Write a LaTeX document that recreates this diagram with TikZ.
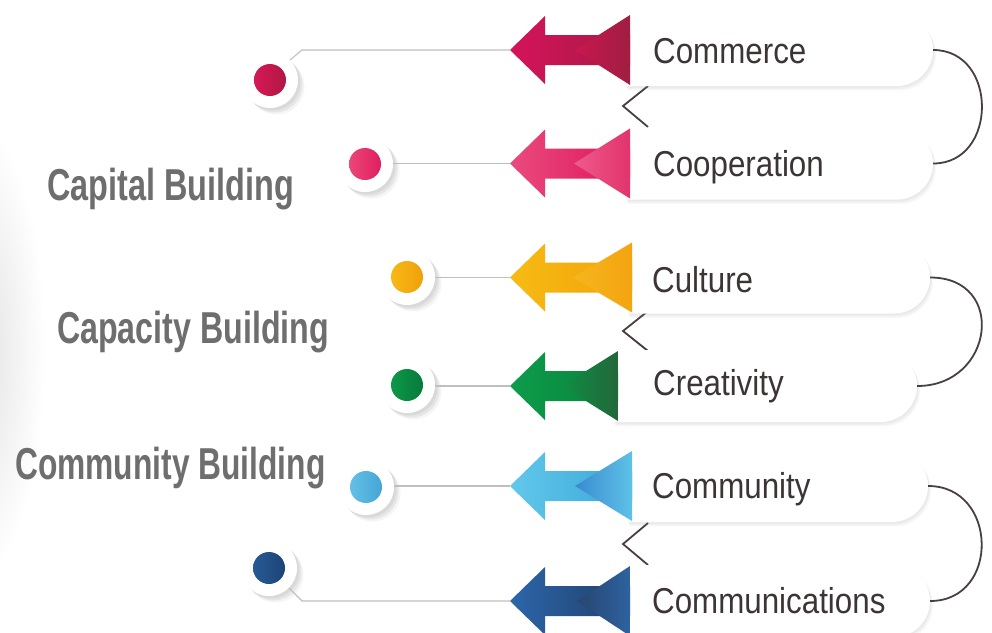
\documentclass[tikz,border=0pt]{standalone}
\usepackage{fontspec}
\setmainfont{Liberation Sans}
\usetikzlibrary{shapes.misc,shadows}
\definecolor{labelgray}{HTML}{6E6E6E}
\definecolor{itemgray}{HTML}{3D3535}
\definecolor{loopcol}{HTML}{4A3F3F}
\definecolor{aA}{HTML}{D5135A}\definecolor{aB}{HTML}{A81A45}\definecolor{aC}{HTML}{C8174F}\definecolor{aD}{HTML}{A01E42}
\definecolor{bA}{HTML}{EA4A7E}\definecolor{bB}{HTML}{DE175C}\definecolor{bC}{HTML}{EE5A8C}\definecolor{bD}{HTML}{E2336C}
\definecolor{cA}{HTML}{F7BB14}\definecolor{cB}{HTML}{F2A20A}\definecolor{cC}{HTML}{F6B61C}\definecolor{cD}{HTML}{F3A411}
\definecolor{dA}{HTML}{0E9C4B}\definecolor{dB}{HTML}{07833C}\definecolor{dC}{HTML}{0F8E43}\definecolor{dD}{HTML}{22673A}
\definecolor{eA}{HTML}{62C8EA}\definecolor{eB}{HTML}{3AA6D8}\definecolor{eC}{HTML}{3A8ACF}\definecolor{eD}{HTML}{5EC2E8}
\definecolor{fA}{HTML}{2C66AB}\definecolor{fB}{HTML}{203F68}\definecolor{fC}{HTML}{27466F}\definecolor{fD}{HTML}{2E62A0}
\definecolor{dotA1}{HTML}{D61856}\definecolor{dotA2}{HTML}{B01844}
\definecolor{dotB1}{HTML}{EC4678}\definecolor{dotB2}{HTML}{E01E5F}
\definecolor{dotC1}{HTML}{F7B816}\definecolor{dotC2}{HTML}{F0A00A}
\definecolor{dotD1}{HTML}{0C9848}\definecolor{dotD2}{HTML}{087A3A}
\definecolor{dotE1}{HTML}{64C0E6}\definecolor{dotE2}{HTML}{46A5D7}
\definecolor{dotF1}{HTML}{285A96}\definecolor{dotF2}{HTML}{1C4476}
\newcommand{\myarrow}[8]{%
  \shade[left color=#5, right color=#6] (510,#2) -- (545,#2-34) -- (545,#2-15) -- (#3,#2-15) -- (#3,#2+15) -- (545,#2+15) -- (545,#2+34) -- cycle;
  \shade[left color=#7, right color=#8] (#4,#2) -- (#3,#2-35) -- (#3,#2+35) -- cycle;
  \coordinate (#1) at (510,#2);
}
\begin{document}
\begin{tikzpicture}[x=1pt,y=-1pt,
  pill/.style={rounded rectangle, rounded rectangle west arc=none, fill=white, minimum height=72pt, inner sep=0pt,
    drop shadow={shadow xshift=1pt, shadow yshift=-1.5pt, opacity=.07},
    drop shadow={shadow xshift=2pt, shadow yshift=-3pt, opacity=.06},
    drop shadow={shadow xshift=3pt, shadow yshift=-4.5pt, opacity=.05}},
  ring/.style={circle, fill=white, minimum size=56pt, inner sep=0pt,
    drop shadow={shadow xshift=2.5pt, shadow yshift=-2.5pt, opacity=.12},
    drop shadow={shadow xshift=4.5pt, shadow yshift=-4.5pt, opacity=.12},
    drop shadow={shadow xshift=6.5pt, shadow yshift=-6.5pt, opacity=.08}},
  dot/.style={circle, minimum size=32pt, inner sep=0pt},
  lead/.style={draw=black!25, line width=1.1pt},
  loopline/.style={draw=loopcol, line width=1.8pt},
  grouplabel/.style={font=\bfseries\fontsize{44.7}{50}\selectfont, text=labelgray, inner sep=0pt, anchor=base west},
  itemlabel/.style={font=\fontsize{36}{40}\selectfont, text=itemgray, inner sep=0pt, anchor=base west}]
\useasboundingbox (0,0) rectangle (992,632);
\fill[white] (0,0) rectangle (992,632);
% soft grey blob at left edge
\shade[inner color=black!12, outer color=white] (-25,350) ellipse [x radius=70, y radius=230];

% chevrons (behind pills)
\coordinate (c1a) at (648,86); \coordinate (c1v) at (623,106); \coordinate (c1b) at (648,127);
\coordinate (c2a) at (648,311); \coordinate (c2v) at (623,331); \coordinate (c2b) at (648,351);
\coordinate (c3a) at (648,523); \coordinate (c3v) at (623,544); \coordinate (c3b) at (648,565);
\draw[loopline] (c1a) -- (c1v) -- (c1b);
\draw[loopline] (c2a) -- (c2v) -- (c2b);
\draw[loopline] (c3a) -- (c3v) -- (c3b);

% pills
\node[pill, minimum width=308pt] (p1) at (779,50) {};
\node[pill, minimum width=308pt] (p2) at (779,163.5) {};
\node[pill, minimum width=303pt] (p3) at (778.5,277.5) {};
\node[pill, minimum width=304pt] (p4) at (765,386) {};
\node[pill, minimum width=301pt] (p5) at (777.5,486) {};
\node[pill, minimum width=305pt] (p6) at (777.5,601) {};

% right loops
\draw[loopline] (p1.east) .. controls +(65,0) and +(65,0) .. (p2.east);
\draw[loopline] (p3.east) .. controls +(77,0) and +(77,0) .. (p4.east);
\draw[loopline] (p5.east) .. controls +(70,0) and +(70,0) .. (p6.east);

% arrows
\myarrow{t1}{50}{630}{575}{aA}{aB}{aC}{aD}
\myarrow{t2}{163.5}{630}{574}{bA}{bB}{bC}{bD}
\myarrow{t3}{277.5}{632}{573}{cA}{cB}{cC}{cD}
\myarrow{t4}{386}{618}{562}{dA}{dB}{dC}{dD}
\myarrow{t5}{486}{632}{575}{eA}{eB}{eC}{eD}
\myarrow{t6}{601}{630}{577}{fA}{fB}{fC}{fD}

% item texts
\node[itemlabel] (i1) at (653,63) {\scalebox{0.87}[1]{Commerce}};
\node[itemlabel] (i2) at (653,176) {\scalebox{0.87}[1]{Cooperation}};
\node[itemlabel] (i3) at (652,292) {\scalebox{0.87}[1]{Culture}};
\node[itemlabel] (i4) at (653,395) {\scalebox{0.87}[1]{Creativity}};
\node[itemlabel] (i5) at (652,498) {\scalebox{0.87}[1]{Community}};
\node[itemlabel] (i6) at (652,613) {\scalebox{0.87}[1]{Communications}};

% rings and dots
\node[ring] (r1) at (270,80) {};
\node[ring] (r2) at (365,164) {};
\node[ring] (r3) at (407,277) {};
\node[ring] (r4) at (407,385) {};
\node[ring] (r5) at (366,487) {};
\node[ring] (r6) at (269,568) {};
\node[dot, left color=dotA1, right color=dotA2] (d1) at (r1) {};
\node[dot, left color=dotB1, right color=dotB2] (d2) at (r2) {};
\node[dot, left color=dotC1, right color=dotC2] (d3) at (r3) {};
\node[dot, left color=dotD1, right color=dotD2] (d4) at (r4) {};
\node[dot, left color=dotE1, right color=dotE2] (d5) at (r5) {};
\node[dot, left color=dotF1, right color=dotF2] (d6) at (r6) {};

% leader lines
\coordinate (b1) at (302,50);
\coordinate (b6) at (302,601);
\draw[lead] (r1.45) -- (b1) -- (t1);
\draw[lead] (t2 -| r2.east) -- (t2);
\draw[lead] (t3 -| r3.east) -- (t3);
\draw[lead] (t4 -| r4.east) -- (t4);
\draw[lead] (t5 -| r5.east) -- (t5);
\draw[lead] (r6.-45) -- (b6) -- (t6);

% group labels
\node[grouplabel] (g1) at (47,200) {\scalebox{0.725}[1]{Capital Building}};
\node[grouplabel] (g2) at (57,343) {\scalebox{0.72}[1]{Capacity Building}};
\node[grouplabel] (g3) at (15,479) {\scalebox{0.71}[1]{Community Building}};
\end{tikzpicture}
\end{document}
